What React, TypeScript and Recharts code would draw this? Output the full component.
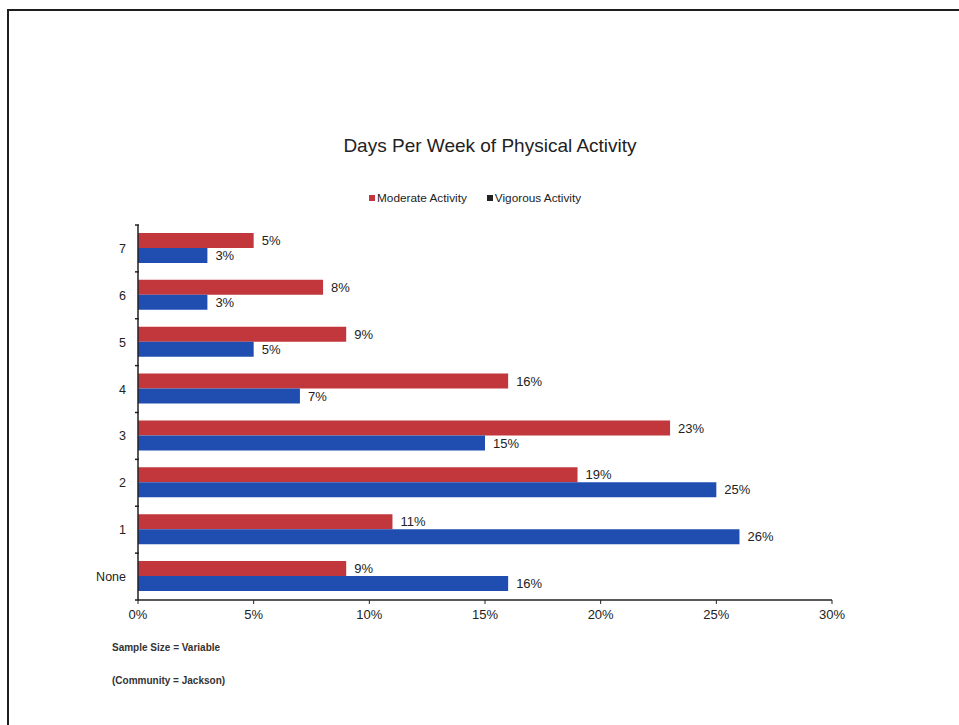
import React from "react";
import { BarChart, Bar, XAxis, YAxis, LabelList } from "recharts";

const categories = ["7", "6", "5", "4", "3", "2", "1", "None"];
const moderate = [5, 8, 9, 16, 23, 19, 11, 9];
const vigorous = [3, 3, 5, 7, 15, 25, 26, 16];
const xTicks = [0, 5, 10, 15, 20, 25, 30];

const RED = "#c1373b";
const BLUE = "#1f4eb0";
const FONT = "'Liberation Sans', Arial, sans-serif";

const CHART_W = 959;
const CHART_H = 725;
const MARGIN = { top: 225, right: 127, bottom: 95, left: 78 };
const X_AXIS_H = 30;
const PLOT_H = CHART_H - MARGIN.top - MARGIN.bottom - X_AXIS_H;
const BAND = PLOT_H / categories.length;

const data = categories.map((c, i) => ({
  name: c,
  moderate: moderate[i],
  vigorous: vigorous[i],
}));

const pct = (v: number) => `${v}%`;

const YTick = (props: any) => {
  const { x, y, payload, index } = props;
  const axisX = x + 6 + 6;
  const isLast = index === categories.length - 1;
  return (
    <g>
      <text x={x} y={y} dy="0.355em" textAnchor="end" fill="#222" fontSize={12.5} fontFamily={FONT}>
        {payload.value}
      </text>
      <line x1={axisX - 3} x2={axisX + 1} y1={y - BAND / 2} y2={y - BAND / 2} stroke="#222" strokeWidth={1.5} />
      {isLast && (
        <line x1={axisX - 3} x2={axisX + 1} y1={y + BAND / 2} y2={y + BAND / 2} stroke="#222" strokeWidth={1.5} />
      )}
    </g>
  );
};

export default function App() {
  return (
    <div
      style={{
        position: "absolute",
        left: 0,
        top: 0,
        width: 959,
        height: 725,
        background: "#fff",
        fontFamily: FONT,
        overflow: "hidden",
      }}
    >
      {/* border */}
      <div style={{ position: "absolute", left: 7, top: 9, width: 960, height: 2, background: "#1e1e1e" }} />
      <div style={{ position: "absolute", left: 7, top: 9, width: 2, height: 720, background: "#1e1e1e" }} />

      <div
        style={{
          position: "absolute",
          left: 0,
          width: 980,
          top: 135,
          textAlign: "center",
          fontSize: 19,
          color: "#222",
        }}
      >
        Days Per Week of Physical Activity
      </div>

      <div
        style={{
          position: "absolute",
          left: 369,
          top: 191,
          fontSize: 11.8,
          color: "#222",
          display: "flex",
          alignItems: "center",
          whiteSpace: "nowrap",
        }}
      >
        <span style={{ display: "inline-block", width: 6, height: 6, background: RED, marginRight: 2 }} />
        <span>Moderate Activity</span>
        <span style={{ display: "inline-block", width: 6, height: 6, background: "#222", marginLeft: 20, marginRight: 2 }} />
        <span>Vigorous Activity</span>
      </div>

      <div style={{ position: "absolute", left: 0, top: 0 }}>
        <BarChart
          width={CHART_W}
          height={CHART_H}
          data={data}
          layout="vertical"
          margin={MARGIN}
          barCategoryGap="17%"
          barGap={0}
        >
          <XAxis
            type="number"
            domain={[0, 30]}
            ticks={xTicks}
            tickFormatter={pct}
            height={X_AXIS_H}
            axisLine={{ stroke: "#222", strokeWidth: 1.5 }}
            tickLine={{ stroke: "#222" }}
            tickSize={4}
            tickMargin={6}
            tick={{ fill: "#222", fontSize: 13, fontFamily: FONT }}
          />
          <YAxis
            type="category"
            dataKey="name"
            width={60}
            axisLine={{ stroke: "#222", strokeWidth: 1.5 }}
            tickLine={false}
            tickMargin={6}
            tick={<YTick />}
          />
          <Bar dataKey="moderate" fill={RED} isAnimationActive={false}>
            <LabelList dataKey="moderate" position="right" offset={8} formatter={pct} fill="#222" fontSize={13} fontFamily={FONT} />
          </Bar>
          <Bar dataKey="vigorous" fill={BLUE} isAnimationActive={false}>
            <LabelList dataKey="vigorous" position="right" offset={8} formatter={pct} fill="#222" fontSize={13} fontFamily={FONT} />
          </Bar>
        </BarChart>
      </div>

      <div style={{ position: "absolute", left: 112, top: 642, fontSize: 10, fontWeight: "bold", color: "#333" }}>
        Sample Size = Variable
      </div>
      <div style={{ position: "absolute", left: 112, top: 675, fontSize: 10, fontWeight: "bold", color: "#333" }}>
        (Community = Jackson)
      </div>
    </div>
  );
}
